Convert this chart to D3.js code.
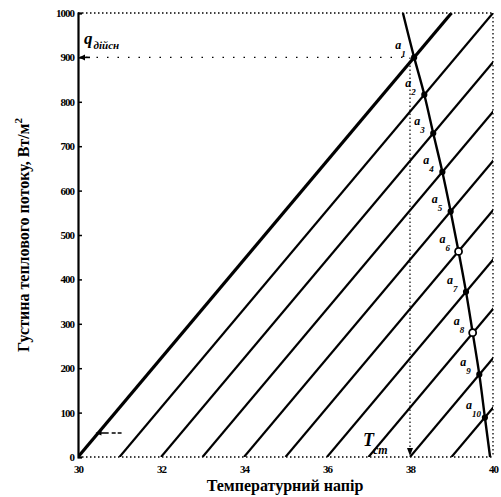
<!DOCTYPE html>
<html><head><meta charset="utf-8">
<script src="https://cdn.jsdelivr.net/npm/d3@7"></script>
<style>
html,body{margin:0;padding:0;background:#fff;}
svg{display:block;font-family:"Liberation Serif","Times New Roman",serif;}
</style></head>
<body>
<script>
// ---- data ----
const xTicks = [30, 32, 34, 36, 38, 40];
const yTicks = [0, 100, 200, 300, 400, 500, 600, 700, 800, 900, 1000];
// parallel working lines: start (T at q=0) and end (T at q=1000)
const lineT0 = [30, 31, 32, 33, 34, 35, 36, 37, 38, 39];
const lineT1 = [39, 40, 41, 42, 43, 44, 45, 46, 47, 48];
// wall temperature curve (top end, points a1..a10, bottom end)
const curveT = [37.83, 38.1, 38.345, 38.56, 38.78, 38.98, 39.17, 39.35, 39.51, 39.67, 39.805, 39.93];
const curveQ = [1000, 900, 816, 729, 642, 553, 463, 372, 280, 186, 89, 0];
const pointLabels = ["1","2","3","4","5","6","7","8","9","10"];
const qActual = 900;
const tWall = 38;

const W = 501, H = 497;
const svg = d3.select("body").append("svg").attr("width", W).attr("height", H);
const x = d3.scaleLinear([30, 40], [78, 493]);
const y = d3.scaleLinear([0, 1000], [457, 13]);

svg.append("defs").append("clipPath").attr("id", "clip")
  .append("rect").attr("x", x(30)).attr("y", y(1000))
  .attr("width", x(40) - x(30)).attr("height", y(0) - y(1000));

// frame: dotted top/right/bottom
const dot = "1.5,2.5";
svg.append("line").attr("x1", x(30)).attr("x2", x(40)).attr("y1", y(1000)).attr("y2", y(1000))
  .attr("stroke", "#000").attr("stroke-width", 1.3).attr("stroke-dasharray", dot);
svg.append("line").attr("x1", x(40)).attr("x2", x(40)).attr("y1", y(1000)).attr("y2", y(0))
  .attr("stroke", "#000").attr("stroke-width", 1.3).attr("stroke-dasharray", dot);
svg.append("line").attr("x1", x(30)).attr("x2", x(40)).attr("y1", y(0)).attr("y2", y(0))
  .attr("stroke", "#000").attr("stroke-width", 1.3).attr("stroke-dasharray", dot);

// left axis
const yAx = svg.append("g").attr("transform", `translate(${x(30)},0)`)
  .call(d3.axisLeft(y).tickValues(yTicks).tickSize(-4).tickPadding(4).tickFormat(d3.format("d")));
yAx.select(".domain").attr("stroke-width", 2.2);
yAx.selectAll(".tick line").attr("stroke-width", 1.5);
yAx.selectAll("text").attr("font-size", 11).attr("font-weight", "bold")
  .attr("font-family", "Liberation Serif, serif").attr("letter-spacing", -1);

// bottom axis
const xAx = svg.append("g").attr("transform", `translate(0,${y(0)})`)
  .call(d3.axisBottom(x).tickValues(xTicks).tickSize(0).tickPadding(8));
xAx.select(".domain").remove();
xAx.selectAll("text").attr("font-size", 11).attr("font-weight", "bold")
  .attr("font-family", "Liberation Serif, serif").attr("letter-spacing", -1);

// diagonal lines
const g = svg.append("g").attr("clip-path", "url(#clip)");
g.selectAll("line.diag").data(lineT0).join("line").attr("class", "diag")
  .attr("x1", d => x(d)).attr("y1", y(0))
  .attr("x2", (d, i) => x(lineT1[i])).attr("y2", y(1000))
  .attr("stroke", "#000").attr("stroke-width", (d, i) => i === 0 ? 3.2 : 2.2);

// q actual dotted line & arrow
svg.append("line").attr("x1", x(30) + 8).attr("x2", x(curveT[1])).attr("y1", y(qActual)).attr("y2", y(qActual))
  .attr("stroke", "#000").attr("stroke-width", 1.2).attr("stroke-dasharray", "1.5,9");
svg.append("line").attr("x1", x(30) + 2).attr("x2", x(30) + 12).attr("y1", y(qActual)).attr("y2", y(qActual))
  .attr("stroke", "#000").attr("stroke-width", 1.6);
svg.append("path").attr("d", `M${x(30) + 1},${y(qActual)} l6,-3 l0,6 z`).attr("fill", "#000");

// vertical dotted line at T wall with arrow
svg.append("line").attr("x1", x(tWall)).attr("x2", x(tWall)).attr("y1", y(qActual)).attr("y2", y(0) - 4)
  .attr("stroke", "#000").attr("stroke-width", 1.2).attr("stroke-dasharray", "1.5,2.5");
svg.append("path").attr("d", `M${x(tWall)},${y(0) - 1} l-3,-8 l6,0 z`).attr("fill", "#000");

// small arrow near origin
svg.append("line").attr("x1", x(30.45)).attr("x2", x(31.05)).attr("y1", y(54)).attr("y2", y(54))
  .attr("stroke", "#000").attr("stroke-width", 1.4).attr("stroke-dasharray", "12,3,4,2");
svg.append("path").attr("d", `M${x(30.42)},${y(54)} l6,-2.5 l0,5 z`).attr("fill", "#000");

// wall temperature curve
const pts = curveT.map((t, i) => [x(t), y(curveQ[i])]);
svg.append("path").attr("d", d3.line().curve(d3.curveMonotoneY)(pts))
  .attr("fill", "none").attr("stroke", "#000").attr("stroke-width", 2.4);
const inner = pts.slice(1, 11);
svg.selectAll("circle.pt").data(inner).join("circle").attr("class", "pt")
  .attr("cx", d => d[0]).attr("cy", d => d[1]).attr("r", (d, i) => (i === 5 || i === 7) ? 3.5 : 2.2)
  .attr("fill", (d, i) => (i === 5 || i === 7) ? "#fff" : "#000")
  .attr("stroke", "#000").attr("stroke-width", 1.8);

// point labels a_i
const lab = svg.selectAll("text.pl").data(inner).join("text").attr("class", "pl")
  .attr("x", d => d[0] - 19).attr("y", d => d[1] - 8)
  .attr("font-size", 12).attr("font-weight", "bold").attr("font-style", "italic");
lab.append("tspan").text("a");
lab.append("tspan").attr("dy", 8).attr("dx", 0).attr("font-size", 9).text((d, i) => pointLabels[i]);

// q_дійсн label
const ql = svg.append("text").attr("x", 84).attr("y", 44).attr("font-weight", "bold").attr("font-style", "italic");
ql.append("tspan").attr("font-size", 17).text("q");
ql.append("tspan").attr("font-size", 11).attr("dy", 5).attr("dx", 1).text("дійсн");

// T_cm label
const tl = svg.append("text").attr("x", 363).attr("y", 446).attr("font-weight", "bold").attr("font-style", "italic");
tl.append("tspan").attr("font-size", 18).text("T");
tl.append("tspan").attr("font-size", 12).attr("dy", 8).attr("dx", -1).text("cm");

// axis titles
svg.append("text").attr("x", 285).attr("y", 491).attr("text-anchor", "middle")
  .attr("font-size", 16).attr("font-weight", "bold").text("Температурний напір");
const yt = svg.append("text").attr("transform", "translate(29,235) rotate(-90)").attr("text-anchor", "middle")
  .attr("font-size", 16).attr("font-weight", "bold");
yt.append("tspan").text("Густина теплового потоку, Вт/м");
yt.append("tspan").attr("font-size", 11).attr("dy", -7).text("2");
</script>
</body></html>
